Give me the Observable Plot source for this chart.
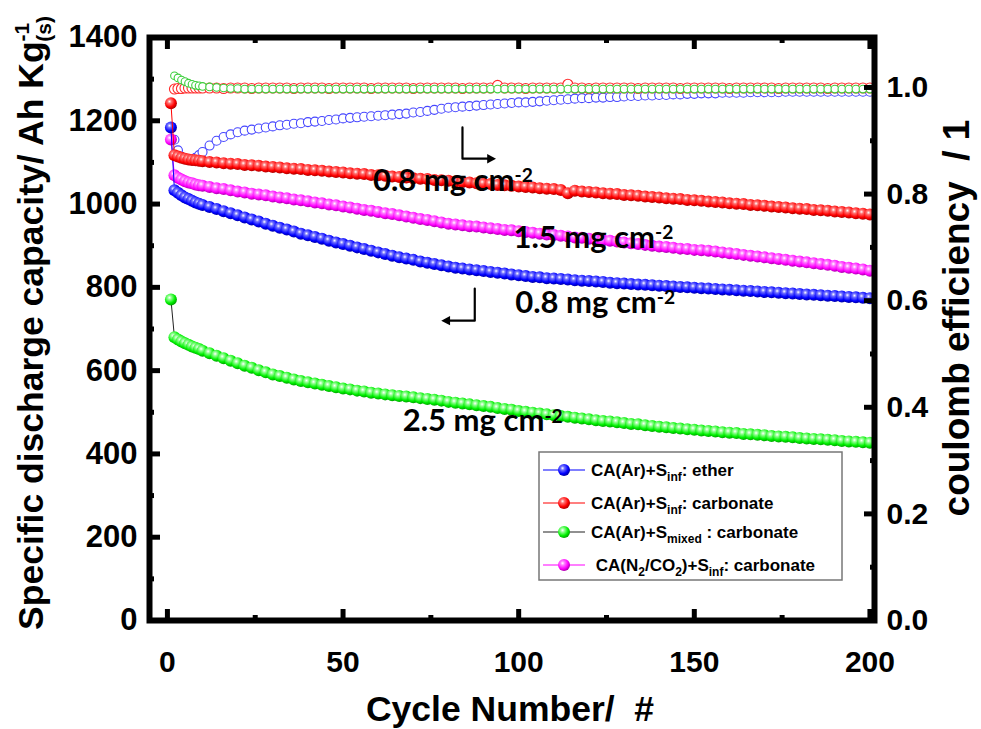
<!DOCTYPE html>
<html><head><meta charset="utf-8">
<script src="https://cdn.jsdelivr.net/npm/d3@7"></script>
<script src="https://cdn.jsdelivr.net/npm/@observablehq/plot@0.6"></script>
<style>
body{margin:0;background:#fff;}
#chart{position:relative;width:981px;height:729px;}
</style></head><body>
<svg width="0" height="0" style="position:absolute">
<defs>
<radialGradient id="gBlue" cx="0.38" cy="0.35" r="0.65"><stop offset="0" stop-color="#ffffff"/><stop offset="0.25" stop-color="#7070ff"/><stop offset="0.7" stop-color="#0000ff"/><stop offset="1" stop-color="#0000a8"/></radialGradient>
<radialGradient id="gRed" cx="0.38" cy="0.35" r="0.65"><stop offset="0" stop-color="#ffffff"/><stop offset="0.25" stop-color="#ff7070"/><stop offset="0.7" stop-color="#ff0000"/><stop offset="1" stop-color="#b00000"/></radialGradient>
<radialGradient id="gGreen" cx="0.38" cy="0.35" r="0.65"><stop offset="0" stop-color="#ffffff"/><stop offset="0.25" stop-color="#90ff90"/><stop offset="0.7" stop-color="#00f000"/><stop offset="1" stop-color="#00a800"/></radialGradient>
<radialGradient id="gMag" cx="0.38" cy="0.35" r="0.65"><stop offset="0" stop-color="#ffffff"/><stop offset="0.25" stop-color="#ff80ff"/><stop offset="0.7" stop-color="#ff00ff"/><stop offset="1" stop-color="#b000b0"/></radialGradient>
</defs></svg>
<div id="chart"></div>
<script>
// ---------------- data ----------------
const cycles = [1,2,3,4,5,6,7,8,9,10,
12,14,16,18,20,22,24,26,28,30,
32,34,36,38,40,42,44,46,48,50,
52,54,56,58,60,62,64,66,68,70,
72,74,76,78,80,82,84,86,88,90,
92,94,96,98,100,102,104,106,108,110,
112,114,116,118,120,122,124,126,128,130,
132,134,136,138,140,142,144,146,148,150,
152,154,156,158,160,162,164,166,168,170,
172,174,176,178,180,182,184,186,188,190,
192,194,196,198,200];

// discharge capacity (Ah kg-1)
const capEther = [1184,1033,1027,1021,1016,1012,1008,1004,1001,998,
993,988,983,978,973,968,963,958,953,948,
943,939,934,929,925,921,917,912,908,904,
900,896,892,888,884,880,876,872,869,866,
862,859,856,853,850,847,845,843,841,839,
837,835,833,831,829,827,825,824,822,821,
820,819,817,816,815,814,813,811,810,809,
808,807,806,805,804,803,802,801,800,799,
798,797,796,795,794,793,792,791,790,789,
788,787,786,785,784,783,782,781,780,779,
778,777,776,775,774];

const capCarb = [1242,1117,1114,1111,1109,1107,1106,1105,1104,1103,
1101,1100,1098,1097,1096,1094,1093,1092,1090,1089,
1088,1086,1085,1084,1082,1081,1080,1078,1077,1076,
1074,1073,1072,1070,1069,1068,1066,1065,1064,1062,
1061,1060,1058,1057,1056,1054,1053,1052,1050,1049,
1048,1046,1045,1044,1042,1041,1040,1038,1037,1036,
1034,1026,1032,1030,1029,1028,1026,1025,1024,1022,
1021,1020,1018,1017,1016,1014,1013,1012,1010,1009,
1008,1006,1005,1004,1002,1001,1000,998,997,996,
994,993,992,990,989,988,986,985,984,982,
981,980,978,977,975];

const capMixed = [771,680,675,670,666,662,658,655,652,648,
642,636,630,624,618,612,607,601,596,591,
587,583,579,575,572,569,566,563,560,557,
555,552,550,547,545,543,541,539,538,536,
534,532,530,528,525,523,521,519,517,515,
513,510,508,506,503,501,499,497,495,493,
491,489,487,485,483,481,479,478,476,474,
472,471,469,467,465,464,462,461,459,458,
456,455,454,452,451,450,448,447,446,445,
443,442,441,440,438,437,436,435,434,433,
431,430,429,428,427];

const capN2 = [1155,1069,1063,1059,1055,1052,1050,1047,1045,1044,
1041,1038,1036,1033,1030,1028,1025,1023,1021,1018,
1016,1014,1011,1009,1007,1004,1002,999,997,994,
992,989,986,984,981,978,976,973,970,967,
964,962,959,956,953,951,949,947,946,944,
942,940,938,937,935,933,931,929,927,926,
924,922,920,919,917,915,913,912,910,908,
906,904,902,900,898,897,895,893,892,890,
889,888,886,884,882,880,878,876,874,872,
870,868,866,864,862,860,858,856,854,852,
849,847,845,843,840];

// coulomb efficiency (right axis)
const ceEther = [null,0.902,0.882,0.870,0.866,0.864,0.865,0.868,0.873,0.879,
0.891,0.900,0.907,0.912,0.916,0.919,0.921,0.923,0.925,0.927,
0.929,0.930,0.932,0.933,0.935,0.936,0.937,0.939,0.940,0.942,
0.943,0.944,0.945,0.946,0.947,0.948,0.949,0.950,0.951,0.953,
0.954,0.956,0.958,0.960,0.962,0.963,0.964,0.965,0.966,0.967,
0.968,0.969,0.970,0.971,0.972,0.972,0.973,0.974,0.975,0.976,
0.977,0.978,0.979,0.980,0.980,0.981,0.981,0.982,0.982,0.983,
0.984,0.984,0.985,0.985,0.986,0.986,0.987,0.987,0.988,0.988,
0.989,0.989,0.989,0.990,0.990,0.990,0.990,0.991,0.991,0.991,
0.991,0.991,0.992,0.992,0.992,0.992,0.992,0.992,0.992,0.992,
0.992,0.992,0.992,0.992,0.992];

const ceCarb = [null,0.997,0.998,0.998,0.999,0.999,0.999,0.999,0.999,0.999,
0.999,0.999,0.998,0.999,0.999,0.999,0.998,0.999,0.999,0.999,
0.999,0.999,0.998,0.999,0.999,0.999,0.999,0.998,0.999,0.999,
0.999,0.999,0.999,0.998,0.999,0.999,0.999,0.999,0.999,0.998,
0.999,0.999,0.999,0.999,0.999,0.999,0.998,0.999,0.999,0.999,
0.999,1.004,0.999,0.999,0.999,0.998,0.999,0.999,0.999,0.999,
0.999,1.006,0.999,0.999,0.998,0.999,0.999,0.999,0.999,0.999,
0.999,0.998,0.999,0.999,0.999,0.999,0.999,0.998,0.999,0.999,
0.999,0.999,0.999,0.999,0.998,0.999,0.999,0.999,0.999,0.999,
0.999,0.998,0.999,0.999,0.999,0.999,0.999,0.999,0.998,0.999,
0.999,0.999,0.999,0.999,0.999];

const ceMixed = [null,1.022,1.018,1.014,1.011,1.008,1.006,1.004,1.003,1.002,
1.001,1.000,0.999,0.998,0.998,0.997,0.997,0.997,0.997,0.997,
0.997,0.997,0.997,0.997,0.997,0.997,0.997,0.997,0.997,0.997,
0.997,0.997,0.997,0.997,0.997,0.997,0.997,0.997,0.997,0.997,
0.997,0.997,0.997,0.997,0.997,0.997,0.997,0.997,0.997,0.997,
0.997,0.997,0.997,0.997,0.997,0.997,0.997,0.997,0.997,0.997,
0.997,0.997,0.997,0.997,0.997,0.997,0.997,0.997,0.997,0.997,
0.997,0.997,0.997,0.997,0.997,0.997,0.997,0.997,0.997,0.997,
0.997,0.997,0.997,0.997,0.997,0.997,0.997,0.997,0.997,0.997,
0.997,0.997,0.997,0.997,0.997,0.997,0.997,0.997,0.997,0.997,
0.997,0.997,0.997,0.997,0.997];

// axis ticks
const xMajor = [0, 50, 100, 150, 200];
const xMinor = [25, 75, 125, 175];
const capMajor = [0, 200, 400, 600, 800, 1000, 1200, 1400];
const capMinor = [100, 300, 500, 700, 900, 1100, 1300];
const ceMajor = [0.0, 0.2, 0.4, 0.6, 0.8, 1.0];
const ceMinor = [0.1, 0.3, 0.5, 0.7, 0.9];
const ceToCap = 1280; // right axis 1.0 == 1280 on left axis

// annotations (data coordinates)
const labelsAnn = [
  {cycle: 58.5, value: 1056, label: "0.8 mg cm-2"},
  {cycle: 98.5, value: 918, label: "1.5 mg cm-2"},
  {cycle: 99, value: 762, label: "0.8 mg cm-2"},
  {cycle: 67, value: 478, label: "2.5 mg cm-2"}
];
const arrowRight = [{cycle: 84, value: 1184}, {cycle: 84, value: 1109}, {cycle: 92.5, value: 1109}];
const arrowLeft = [{cycle: 87.5, value: 797}, {cycle: 87.5, value: 720}, {cycle: 79, value: 720}];

const legendItems = [
  {parts: [["CA(Ar)+S"], ["inf", "sub"], [": ether"]], line: "#0000ff", ball: "url(#gBlue)"},
  {parts: [["CA(Ar)+S"], ["inf", "sub"], [": carbonate"]], line: "#ff0000", ball: "url(#gRed)"},
  {parts: [["CA(Ar)+S"], ["mixed", "sub"], [" : carbonate"]], line: "#222222", ball: "url(#gGreen)"},
  {parts: [["\u00a0CA(N"], ["2", "sub"], ["/CO"], ["2", "sub"], [")+S"], ["inf", "sub"], [": carbonate"]], line: "#ff00ff", ball: "url(#gMag)"}
];

// ---------------- build ----------------
const rows = (vals) => cycles.map((c, i) => ({cycle: c, v: vals[i]})).filter(d => d.v != null);
const FONT = "'Liberation Sans', Arial, Helvetica, sans-serif";
const tickMarks = (anchor, ticks, size, axis) =>
  (axis === "x" ? Plot.axisX : Plot.axisY)({anchor, ticks, tickSize: size, strokeWidth: 5, fill: "none", label: null});

const plot = Plot.plot({
  width: 981, height: 729,
  marginLeft: 149, marginRight: 107, marginTop: 37, marginBottom: 109,
  x: {domain: [-5.1, 201.3], axis: null},
  y: {domain: [0, 1400], axis: null},
  style: {fontFamily: FONT, background: "white", overflow: "visible"},
  marks: [
    // coulomb efficiency (open circles)
    Plot.dot(rows(ceEther), {x: "cycle", y: d => d.v * ceToCap, r: 4.5, fill: "white", stroke: "#4646ff", strokeWidth: 1.1}),
    Plot.dot(rows(ceCarb), {x: "cycle", y: d => d.v * ceToCap, r: 5, fill: "white", stroke: "#ff2a2a", strokeWidth: 1.1}),
    Plot.dot(rows(ceMixed), {x: "cycle", y: d => d.v * ceToCap, r: 3.8, fill: "white", stroke: "#3ccf3c", strokeWidth: 1.1}),
    // capacities
    Plot.line(rows(capN2), {x: "cycle", y: "v", stroke: "#ff00ff", strokeWidth: 1}),
    Plot.dot(rows(capN2), {x: "cycle", y: "v", r: 6, fill: "url(#gMag)"}),
    Plot.line(rows(capEther), {x: "cycle", y: "v", stroke: "#0000ff", strokeWidth: 1}),
    Plot.dot(rows(capEther), {x: "cycle", y: "v", r: 6, fill: "url(#gBlue)"}),
    Plot.line(rows(capCarb), {x: "cycle", y: "v", stroke: "#ff0000", strokeWidth: 1}),
    Plot.dot(rows(capCarb), {x: "cycle", y: "v", r: 6, fill: "url(#gRed)"}),
    Plot.line(rows(capMixed), {x: "cycle", y: "v", stroke: "#222222", strokeWidth: 1}),
    Plot.dot(rows(capMixed), {x: "cycle", y: "v", r: 6, fill: "url(#gGreen)"}),
    // annotations
    Plot.text(labelsAnn, {x: "cycle", y: "value", text: "label", textAnchor: "start", fontSize: 31, fontWeight: "bold", fontFamily: "Lato, 'Open Sans', sans-serif", fill: "black"}),
    Plot.line(arrowRight, {x: "cycle", y: "value", stroke: "black", strokeWidth: 2.2, markerEnd: "arrow"}),
    Plot.line(arrowLeft, {x: "cycle", y: "value", stroke: "black", strokeWidth: 2.2, markerEnd: "arrow"}),
    // frame + ticks
    Plot.frame({stroke: "black", strokeWidth: 6}),
    tickMarks("bottom", xMajor, -11, "x"), tickMarks("bottom", xMinor, -5, "x"),
    tickMarks("top", xMajor, -11, "x"), tickMarks("top", xMinor, -5, "x"),
    tickMarks("left", capMajor, -11, "y"), tickMarks("left", capMinor, -5, "y"),
    tickMarks("right", ceMajor.map(v => v * ceToCap), -11, "y"), tickMarks("right", ceMinor.map(v => v * ceToCap), -5, "y"),
    // tick labels
    Plot.axisX({anchor: "bottom", ticks: xMajor, tickFormat: d => String(d), tickSize: 0, tickPadding: 30, fontSize: 30, fontWeight: "bold", fill: "black", label: null}),
    Plot.axisY({anchor: "left", ticks: capMajor, tickFormat: d => String(d), tickSize: 0, tickPadding: 12, fontSize: 31, fontWeight: "bold", fill: "black", label: null}),
    Plot.axisY({anchor: "right", ticks: ceMajor.map(v => v * ceToCap), tickFormat: d => (d / ceToCap).toFixed(1), tickSize: 0, tickPadding: 12, fontSize: 30, fontWeight: "bold", fill: "black", label: null})
  ]
});

const svg = d3.select(plot);

// solid arrow heads
svg.selectAll("marker").attr("fill", "black").attr("stroke", "none")
  .selectAll("path").attr("d", "M-3.5,-3.2L2.5,0L-3.5,3.2Z");

// superscripts in annotations
svg.selectAll("text").each(function () {
  const t = this.textContent;
  const m = t.match(/^(.*cm)-2$/);
  if (m && this.childElementCount === 0) {
    const el = d3.select(this);
    el.text(m[1]);
    el.append("tspan").attr("dy", "-0.45em").attr("font-size", "0.62em").text("-2");
  }
});

// axis titles
const tg = svg.append("g").attr("font-family", FONT).attr("font-weight", "bold").attr("fill", "black");
tg.append("text").attr("x", 510).attr("y", 721).attr("text-anchor", "middle").attr("font-size", 35.5)
  .style("white-space", "pre").text("Cycle Number/  #");

const lt = tg.append("text").attr("transform", "translate(43,323) rotate(-90)").attr("text-anchor", "middle").attr("font-size", 35.5);
lt.append("tspan").text("Specific discharge capacity/ Ah Kg");
lt.append("tspan").attr("font-size", 21).attr("dy", -14).text("-1");
lt.append("tspan").attr("font-size", 21).attr("dx", -19).attr("dy", 22).text("(s)");

tg.append("text").attr("transform", "translate(969,318) rotate(-90)").attr("text-anchor", "middle").attr("font-size", 37)
  .style("white-space", "pre").text("coulomb efficiency  / 1");

// legend
const lg = svg.append("g").attr("font-family", FONT).attr("font-weight", "bold").attr("font-size", 17).attr("text-anchor", "start");
lg.append("rect").attr("x", 539).attr("y", 452).attr("width", 303).attr("height", 128)
  .attr("fill", "white").attr("stroke", "#777").attr("stroke-width", 1.5);
const rowY = [470, 503, 532, 565];
legendItems.forEach((it, i) => {
  const y = rowY[i];
  lg.append("line").attr("x1", 543).attr("x2", 585).attr("y1", y).attr("y2", y).attr("stroke", it.line).attr("stroke-width", 1.2);
  lg.append("circle").attr("cx", 564).attr("cy", y).attr("r", 6).attr("fill", it.ball);
  const tx = lg.append("text").attr("x", 591).attr("y", y + 6).attr("text-anchor", "start").style("white-space", "pre");
  let shift = 0;
  it.parts.forEach(([s, kind]) => {
    const sp = tx.append("tspan").text(s);
    if (kind === "sub") { sp.attr("font-size", 12).attr("dy", 5 - shift); shift = 5; }
    else { sp.attr("dy", -shift); shift = 0; }
  });
});

document.getElementById("chart").appendChild(plot);
</script>
</body></html>
